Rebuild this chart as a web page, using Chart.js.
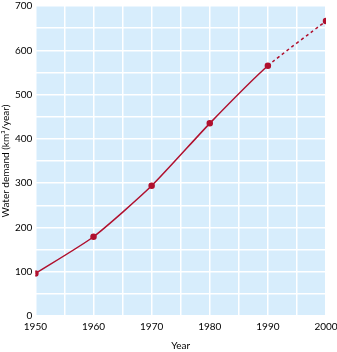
<!DOCTYPE html>
<html>
<head>
<meta charset="utf-8">
<script src="https://cdn.jsdelivr.net/npm/chart.js@4"></script>
<style>
  html, body { margin: 0; padding: 0; background: #fff; }
  #wrap { width: 337px; height: 352px; }
</style>
</head>
<body>
<div id="wrap"><canvas id="chart"></canvas></div>
<script>
const years = [1950, 1960, 1970, 1980, 1990, 2000];
const demand = [96, 179, 294, 435, 565, 666];
const lastMeasured = 4; // index of 1990, projection after that

const plotBg = {
    id: 'plotBg',
    beforeDraw(chart) {
        const a = chart.chartArea;
        const ctx = chart.ctx;
        ctx.save();
        ctx.fillStyle = '#d7edfc';
        ctx.fillRect(a.left, a.top, a.right - a.left, a.bottom - a.top);
        ctx.restore();
    }
};

const font = { family: 'Lato', size: 10 };

new Chart(document.getElementById('chart').getContext('2d'), {
    type: 'line',
    data: {
        datasets: [{
            data: years.map((y, i) => ({ x: y, y: demand[i] })),
            borderColor: '#b0102e',
            backgroundColor: '#b0102e',
            borderWidth: 1.5,
            pointRadius: 2.5,
            pointHoverRadius: 2.5,
            tension: 0.2,
            segment: {
                borderDash: ctx => ctx.p0DataIndex >= lastMeasured ? [3, 3] : undefined
            }
        }]
    },
    options: {
        responsive: true,
        maintainAspectRatio: false,
        animation: false,
        layout: { padding: { top: 6, right: 11, left: 0, bottom: 0 } },
        plugins: { legend: { display: false }, tooltip: { enabled: false } },
        scales: {
            x: {
                type: 'linear',
                min: 1950,
                max: 2000,
                afterFit: scale => { scale.paddingRight = 0; },
                grid: { color: '#ffffff', lineWidth: 1.5, drawTicks: false },
                border: { display: false },
                ticks: {
                    stepSize: 5,
                    autoSkip: false,
                    maxRotation: 0,
                    padding: 5,
                    color: '#000',
                    font: font,
                    callback: v => v % 10 === 0 ? String(v) : ''
                },
                title: { display: true, text: 'Year', color: '#000', font: font, padding: { top: 2, bottom: 0 } }
            },
            y: {
                min: 0,
                max: 700,
                afterFit: scale => { scale.paddingTop = 0; },
                grid: { color: '#ffffff', lineWidth: 1.5, drawTicks: false },
                border: { display: false },
                ticks: {
                    stepSize: 50,
                    autoSkip: false,
                    padding: 3,
                    color: '#000',
                    font: font,
                    callback: v => v % 100 === 0 ? String(v) : ''
                },
                title: { display: true, text: 'Water demand (km³/year)', color: '#000', font: font, padding: { top: 0, bottom: 0 } }
            }
        }
    },
    plugins: [plotBg]
});
</script>
</body>
</html>
